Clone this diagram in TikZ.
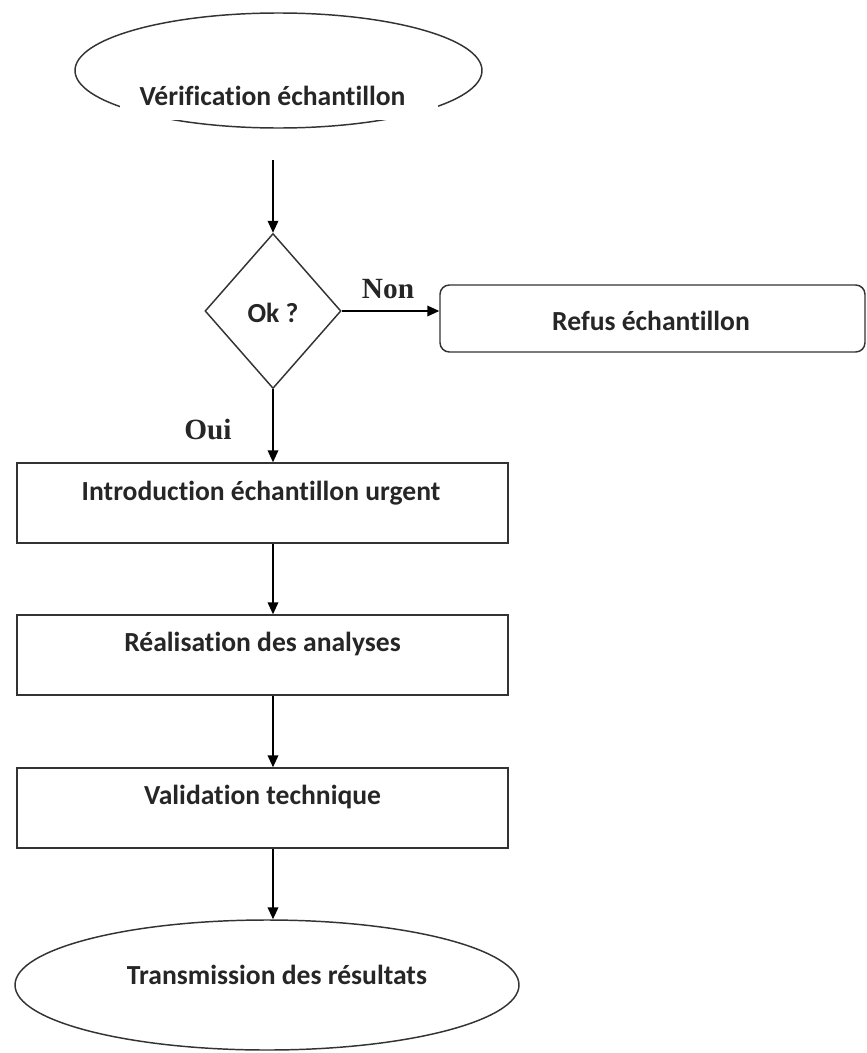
\documentclass[tikz,border=0pt]{standalone}
\usepackage{fontspec}
\setmainfont[Ligatures=NoCommon]{Carlito}
\newfontfamily\serifbold{Liberation Serif}
\usetikzlibrary{shapes.geometric,arrows.meta}
\begin{document}
\begin{tikzpicture}[x=0.75pt,y=-0.75pt,
  shp/.style={draw=black!80,line width=1.1pt,inner sep=0pt},
  boxnode/.style={shp,rectangle,minimum width={491*0.75pt},minimum height={80*0.75pt}},
  ellnode/.style={shp,ellipse},
  txt/.style={font=\bfseries\fontsize{20.7}{23}\selectfont,text=black!85,inner sep=0pt},
  yesno/.style={font=\serifbold\bfseries\fontsize{22}{24}\selectfont,text=black!85,inner sep=0pt},
  arr/.style={line width=1.1pt,-{Triangle[length=9pt,width=8pt]}}]
\useasboundingbox (0,0) rectangle (867,1053);
% top ellipse
\node[ellnode,minimum width={407*0.75pt},minimum height={115*0.75pt}] (e1) at (278.5,70.5) {};
\node[txt,fill=white,minimum width={318*0.75pt},minimum height={38*0.75pt}] (e1t) at (279,101) {};
\node[txt] (e1l) at (272.5,96) {Vérification échantillon};
\coordinate (s) at (273,160);
% decision
\node[shp,diamond,minimum width={136*0.75pt},minimum height={155*0.75pt}] (d) at (273,311) {};
\node[txt] (dt) at (273,313) {Ok ?};
% refusal
\node[shp,rectangle,rounded corners=7pt,minimum width={425*0.75pt},minimum height={67*0.75pt}] (r) at (652.5,318.5) {};
\node[txt] (rt) at (651,321) {Refus échantillon};
% labels
\node[yesno] (non) at (388,289) {Non};
\node[yesno] (oui) at (208,429) {Oui};
% boxes
\node[boxnode] (b1) at (262.5,503) {};
\node[txt] (b1t) at (261,493) {Introduction échantillon urgent};
\node[boxnode] (b2) at (262.5,655) {};
\node[txt] (b2t) at (262.5,644) {Réalisation des analyses};
\node[boxnode] (b3) at (262.5,808) {};
\node[txt] (b3t) at (262.5,797) {Validation technique};
% bottom ellipse
\node[ellnode,minimum width={504*0.75pt},minimum height={130*0.75pt}] (e2) at (267,985) {};
\node[txt] (e2t) at (277,975) {Transmission des résultats};
% connectors
\draw[arr] (s) -- (d.north);
\draw[arr] (d.east) -- (d.east -| r.west);
\draw[arr] (d.south) -- (d.south |- b1.north);
\draw[arr] (b1.south -| d.south) -- (b2.north -| d.south);
\draw[arr] (b2.south -| d.south) -- (b3.north -| d.south);
\draw[arr] (b3.south -| d.south) -- (d.south |- e2.north);
\end{tikzpicture}
\end{document}
